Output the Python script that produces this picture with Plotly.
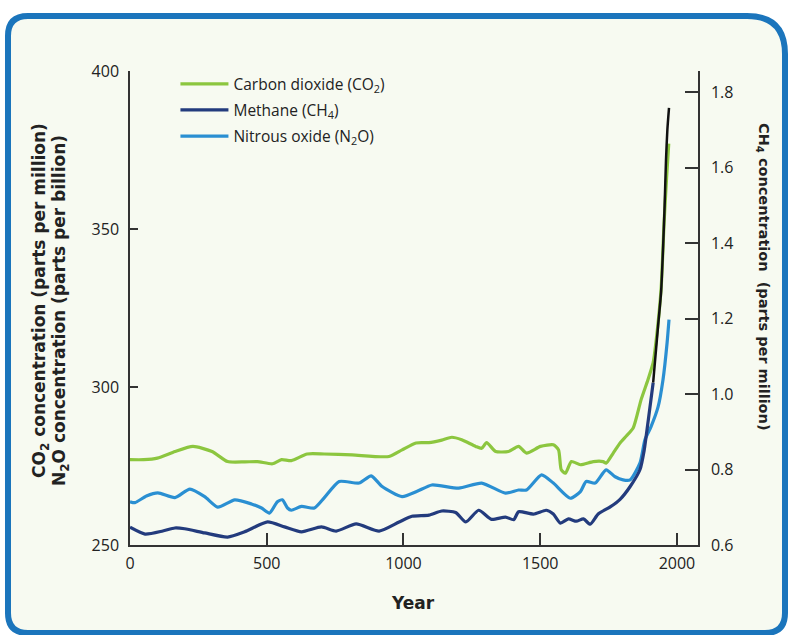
import plotly.graph_objects as go

# ---------------- data ----------------
co2_years = [0, 50, 100, 165, 230, 300, 357, 420, 466, 521, 554, 590, 648, 710, 812, 947,
             995, 1046, 1093, 1140, 1177, 1213, 1264, 1286, 1304, 1337, 1384, 1421, 1450,
             1501, 1548, 1567, 1577, 1592, 1614, 1647, 1694, 1730, 1741, 1767, 1792, 1815,
             1840, 1869, 1894, 1913, 1923, 1942, 1953, 1962, 1970]
co2_ppm = [277, 277, 277.5, 279.6, 281.2, 279.6, 276.4, 276.3, 276.4, 275.7, 277, 276.7,
           278.8, 278.8, 278.5, 278, 280.1, 282.3, 282.4, 283.2, 284.1, 283.3, 281.2, 280.6,
           282.4, 279.6, 279.6, 281.2, 279.1, 281.2, 281.7, 280.1, 273.8, 272.7, 276.4,
           275.4, 276.4, 276.4, 275.9, 279.1, 282.3, 284.5, 287, 296, 302.3, 307.7, 314,
           331, 352, 366, 377]

ch4_years = [0, 55, 120, 164, 200, 273, 357, 419, 503, 565, 627, 700, 754, 827, 911, 984,
             1031, 1093, 1140, 1191, 1228, 1275, 1322, 1373, 1403, 1421, 1475, 1523, 1548,
             1574, 1603, 1632, 1658, 1683, 1712, 1756, 1792, 1829, 1865, 1880, 1895, 1913,
             1931, 1942, 1950, 1955, 1960, 1965, 1971]
ch4_ppm = [0.647, 0.629, 0.637, 0.645, 0.643, 0.632, 0.621, 0.635, 0.661, 0.648, 0.635,
           0.648, 0.637, 0.656, 0.637, 0.661, 0.676, 0.679, 0.690, 0.686, 0.661, 0.692,
           0.668, 0.674, 0.667, 0.688, 0.682, 0.692, 0.682, 0.658, 0.669, 0.663, 0.669,
           0.655, 0.682, 0.701, 0.721, 0.755, 0.80, 0.85, 0.93, 1.03, 1.18, 1.27, 1.40,
           1.50, 1.62, 1.70, 1.758]
ch4_dark_from = 1913  # upper part of the methane curve is drawn black

n2o_years = [0, 18, 60, 102, 164, 219, 273, 321, 383, 444, 481, 510, 539, 557, 576, 590,
             627, 674, 710, 765, 838, 882, 922, 995, 1050, 1104, 1202, 1286, 1373, 1421,
             1450, 1505, 1548, 1610, 1647, 1668, 1701, 1741, 1774, 1803, 1829, 1865, 1883,
             1905, 1931, 1949, 1964, 1971]
n2o_ppb = [263.7, 263.4, 265.5, 266.5, 265, 267.7, 265.3, 262, 264.3, 263, 261.7, 260.1,
           263.7, 264.3, 261.7, 261, 262.2, 261.7, 264.9, 270.1, 269.6, 271.9, 268.5, 265.3,
           267, 269, 268, 269.6, 266.4, 267.4, 267.4, 272.2, 269.6, 264.8, 266.9, 270.1,
           269.6, 273.8, 271.6, 270.6, 270.6, 276, 283.3, 287.4, 293.7, 302.3, 314, 321.3]

x_ticks = [0, 500, 1000, 1500, 2000]
left_ticks = [250, 300, 350, 400]
right_ticks = [0.6, 0.8, 1.0, 1.2, 1.4, 1.6, 1.8]

# ---------------- styling ----------------
W, H = 789, 635
ML, MR, MT, MB = 130, 91, 71, 90
PW, PH = W - ML - MR, H - MT - MB

GREEN = "#8cc63f"
NAVY = "#233b7d"
BLUE = "#2a8fd2"
AXIS = "#333333"
FONT = "Open Sans"
TFONT = "DejaVu Sans"


def px2paper(px, py):
    return (px - ML) / PW, (H - MB - py) / PH


def border_path(L, T, R, B, tl, tr, br, bl):
    pts = []

    def P(x, y):
        xp, yp = px2paper(x, y)
        return f"{xp:.5f},{yp:.5f}"

    pts.append("M" + P(L + tl, T))
    pts.append("L" + P(R - tr, T))
    pts.append("Q" + P(R, T) + " " + P(R, T + tr))
    pts.append("L" + P(R, B - br))
    pts.append("Q" + P(R, B) + " " + P(R - br, B))
    pts.append("L" + P(L + bl, B))
    pts.append("Q" + P(L, B) + " " + P(L, B - bl))
    pts.append("L" + P(L, T + tl))
    pts.append("Q" + P(L, T) + " " + P(L + tl, T))
    return " ".join(pts) + " Z"


fig = go.Figure()

split = ch4_years.index(ch4_dark_from)

fig.add_trace(go.Scatter(
    x=n2o_years, y=n2o_ppb, mode="lines", name="Nitrous oxide (N<sub>2</sub>O)",
    line=dict(color=BLUE, width=3.2, shape="spline", smoothing=0.6),
    legendrank=3, legendgroup="n2o", hoverinfo="skip"))

fig.add_trace(go.Scatter(
    x=ch4_years[:split + 1], y=ch4_ppm[:split + 1], mode="lines", name="Methane (CH<sub>4</sub>)",
    line=dict(color=NAVY, width=3.2, shape="spline", smoothing=0.6), yaxis="y2",
    legendrank=2, legendgroup="ch4", hoverinfo="skip"))

fig.add_trace(go.Scatter(
    x=ch4_years[split:], y=ch4_ppm[split:], mode="lines", showlegend=False,
    line=dict(color="#111111", width=2.5, shape="spline", smoothing=0.6), yaxis="y2",
    legendrank=2, legendgroup="ch4", hoverinfo="skip"))

fig.add_trace(go.Scatter(
    x=co2_years, y=co2_ppm, mode="lines", name="Carbon dioxide (CO<sub>2</sub>)",
    line=dict(color=GREEN, width=3.2, shape="spline", smoothing=0.6),
    legendrank=1, legendgroup="co2", hoverinfo="skip"))

r_top = 0.6 + (H - MB - MT) / 377.5

fig.update_layout(
    width=W, height=H,
    margin=dict(l=ML, r=MR, t=MT, b=MB, pad=0, autoexpand=False),
    paper_bgcolor="white",
    plot_bgcolor="rgba(0,0,0,0)",
    font=dict(family=FONT, color="#222222", size=16),
    showlegend=True,
    legend=dict(x=0.08, y=1.008, xanchor="left", yanchor="top",
                bgcolor="rgba(0,0,0,0)", font=dict(size=15.5, family=FONT, color="#222"),
                tracegroupgap=3, itemwidth=48, traceorder="grouped"),
    xaxis=dict(range=[0, 2077], tickvals=x_ticks, showgrid=False, zeroline=False,
               showline=True, linecolor=AXIS, linewidth=1.5, automargin=False,
               ticks="inside", ticklen=12, tickwidth=1.5, tickcolor=AXIS,
               tickfont=dict(size=16, color="#222"), ticklabelstandoff=3),
    yaxis=dict(range=[250, 400], tickvals=left_ticks, showgrid=False, zeroline=False,
               showline=True, linecolor=AXIS, linewidth=1.5, automargin=False,
               ticks="inside", ticklen=8, tickwidth=1.5, tickcolor=AXIS,
               tickfont=dict(size=16, color="#222"), ticklabelstandoff=6),
    yaxis2=dict(range=[0.6, r_top], tickvals=right_ticks, tickformat=".1f",
                overlaying="y", side="right", showgrid=False, zeroline=False,
                showline=True, linecolor=AXIS, linewidth=1.5, automargin=False,
                ticks="inside", ticklen=13, tickwidth=1.5, tickcolor=AXIS,
                tickfont=dict(size=16, color="#222"), ticklabelstandoff=8),
)

fig.add_shape(type="path", xref="paper", yref="paper", layer="below",
              path=border_path(8, 16, 785, 633, 20, 38, 20, 20),
              line=dict(color="#1b75bc", width=6), fillcolor="#f7faf1")

left_font = dict(family=TFONT, size=17, color="#222222", weight="bold")
right_font = dict(family=TFONT, size=14.5, color="#222222", weight="bold")

for text, cx, cy in [("CO<sub>2</sub> concentration (parts per million)", 40, 301),
                     ("N<sub>2</sub>O concentration (parts per billion)", 60, 311)]:
    ax_, ay_ = px2paper(cx, cy)
    fig.add_annotation(xref="paper", yref="paper", x=ax_, y=ay_, textangle=-90,
                       showarrow=False, text=text, font=left_font,
                       xanchor="center", yanchor="middle")

rx, ry = px2paper(763, 277)
fig.add_annotation(xref="paper", yref="paper", x=rx, y=ry, textangle=90, showarrow=False,
                   text="CH<sub>4</sub> concentration  (parts per million)",
                   font=right_font, xanchor="center", yanchor="middle")

yx, yy = px2paper(413, 603)
fig.add_annotation(xref="paper", yref="paper", x=yx, y=yy, showarrow=False,
                   text="Year", font=dict(family=TFONT, size=17, color="#222222", weight="bold"),
                   xanchor="center", yanchor="middle")

# remove the default 8px page margin so the figure sits at the window origin
fig.write_html("out.html", config={"displayModeBar": False},
               post_script="document.body.style.margin='0';")
